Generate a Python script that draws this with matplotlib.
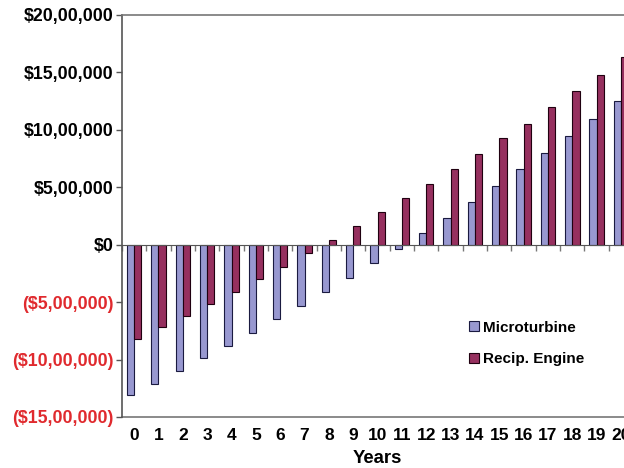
import numpy as np
import matplotlib.pyplot as plt
from matplotlib.ticker import FuncFormatter

# data
years = list(range(21))
micro = [-13.1, -12.1, -11.0, -9.9, -8.8, -7.7, -6.5, -5.3, -4.1, -2.9, -1.6, -0.35,
         1.0, 2.35, 3.7, 5.1, 6.55, 7.95, 9.45, 10.95, 12.5]
recip = [-8.2, -7.2, -6.2, -5.15, -4.1, -3.0, -1.9, -0.75, 0.45, 1.6, 2.85, 4.05,
         5.3, 6.55, 7.9, 9.25, 10.55, 11.95, 13.4, 14.8, 16.3]
micro = np.array(micro) * 1e5
recip = np.array(recip) * 1e5

plt.rcParams['font.family'] = 'Liberation Sans'
plt.rcParams['font.weight'] = 'bold'

fig = plt.figure(figsize=(6.24, 4.68), dpi=100)
ax = fig.add_axes([0.1955, 0.109, 0.819, 0.859])

x = np.arange(len(years))
w = 0.3
ax.bar(x - w/2, micro, w, color='#9898D0', edgecolor='#1a1a40', linewidth=0.8, label='Microturbine')
ax.bar(x + w/2, recip, w, color='#96305F', edgecolor='#200010', linewidth=0.8, label='Recip. Engine')

ax.set_xlim(-0.5, 20.5)
ax.set_ylim(-15e5, 20e5)

# indian style currency labels
def inr(v, pos):
    n = int(round(abs(v)))
    s = str(n)
    if len(s) > 3:
        head, tail = s[:-3], s[-3:]
        parts = []
        while len(head) > 2:
            parts.insert(0, head[-2:])
            head = head[:-2]
        if head:
            parts.insert(0, head)
        s = ','.join(parts) + ',' + tail
    if v < 0:
        return '($' + s + ')'
    return '$' + s

ax.set_yticks(np.arange(-15e5, 20e5 + 1, 5e5))
ax.yaxis.set_major_formatter(FuncFormatter(inr))
ax.tick_params(axis='y', length=4, width=1, color='#555555', labelsize=12.8, pad=2)
for t, v in zip(ax.get_yticklabels(), ax.get_yticks()):
    t.set_color('#E02A2E' if v < 0 else 'black')

# zero axis with ticks between categories
ax.spines['bottom'].set_position(('data', 0))
ax.spines['bottom'].set_color('#555555')
ax.set_xticks(np.arange(-0.5, 21, 1))
ax.set_xticklabels([])
ax.tick_params(axis='x', length=4, width=1, color='#777777')

ax.spines['left'].set_color('#555555')
ax.spines['left'].set_linewidth(1.2)
ax.spines['top'].set_color('#777777')
ax.spines['top'].set_linewidth(1.2)
ax.spines['right'].set_visible(False)

# labels along the bottom border
sec = ax.secondary_xaxis('bottom')
sec.set_xticks(x)
sec.set_xticklabels([str(y) for y in years])
sec.tick_params(length=0, labelsize=12.5, pad=8)
sec.spines['bottom'].set_color('#777777')
sec.spines['bottom'].set_linewidth(1.2)
sec.set_xlabel('Years', fontsize=13.3, fontweight='bold', labelpad=5)

fig.legend(loc='center left', bbox_to_anchor=(0.73, 0.266), frameon=False,
           fontsize=11, handlelength=0.65, handleheight=0.65, handletextpad=0.25,
           labelspacing=1.15)

fig.savefig('out.png', dpi=100)
